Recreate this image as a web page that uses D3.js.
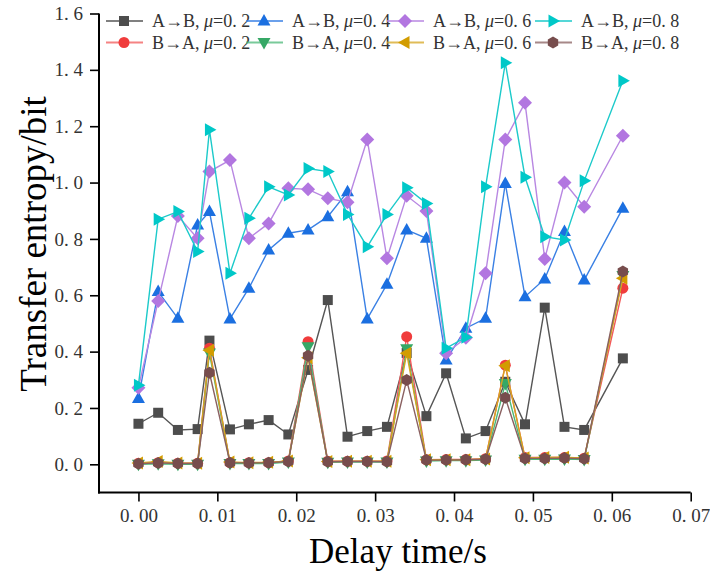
<!DOCTYPE html>
<html>
<head>
<meta charset="utf-8">
<script src="https://cdn.jsdelivr.net/npm/d3@7"></script>
<style>
  body { margin: 0; background: #fff; }
  svg { display: block; }
</style>
</head>
<body>
<div id="chart"></div>
<script>
// tempos de atraso (s)
const delays = [0, 0.0025, 0.005, 0.0075, 0.009, 0.0116, 0.014, 0.0165, 0.019, 0.0215,
  0.024, 0.0265, 0.029, 0.0315, 0.034, 0.0365, 0.039, 0.0415, 0.044, 0.0465,
  0.049, 0.0515, 0.054, 0.0565, 0.0614];

// A->B
const ab02 = [0.144, 0.183, 0.122, 0.125, 0.439, 0.124, 0.142, 0.157, 0.106, 0.335, 0.583, 0.098, 0.118, 0.133, 0.395, 0.171, 0.323, 0.092, 0.118, 0.293, 0.142, 0.556, 0.133, 0.122, 0.376];
const ab04 = [0.234, 0.613, 0.518, 0.849, 0.897, 0.516, 0.625, 0.761, 0.82, 0.832, 0.879, 0.967, 0.516, 0.639, 0.832, 0.802, 0.370, 0.483, 0.518, 0.997, 0.595, 0.658, 0.826, 0.654, 0.909];
const ab06 = [0.272, 0.58, 0.881, 0.802, 1.039, 1.08, 0.802, 0.855, 0.98, 0.976, 0.944, 0.93, 1.153, 0.731, 0.953, 0.899, 0.394, 0.449, 0.678, 1.153, 1.283, 0.729, 1.0, 0.914, 1.166];
const ab08 = [0.281, 0.87, 0.897, 0.755, 1.187, 0.678, 0.873, 0.985, 0.956, 1.05, 1.039, 0.887, 0.772, 0.887, 0.982, 0.926, 0.412, 0.451, 0.985, 1.425, 1.019, 0.808, 0.796, 1.006, 1.361];

// B->A
const ba02 = [0.004, 0.006, 0.004, 0.004, 0.412, 0.006, 0.006, 0.006, 0.012, 0.435, 0.011, 0.011, 0.011, 0.012, 0.453, 0.016, 0.017, 0.017, 0.02, 0.352, 0.024, 0.024, 0.024, 0.022, 0.625];
const ba04 = [0.0, 0.002, 0.0, 0.0, 0.395, 0.003, 0.003, 0.003, 0.008, 0.417, 0.007, 0.008, 0.008, 0.008, 0.41, 0.012, 0.013, 0.013, 0.015, 0.287, 0.018, 0.018, 0.019, 0.017, 0.67];
const ba06 = [0.005, 0.01, 0.005, 0.004, 0.405, 0.008, 0.006, 0.007, 0.012, 0.378, 0.01, 0.011, 0.011, 0.011, 0.394, 0.016, 0.016, 0.016, 0.019, 0.35, 0.023, 0.024, 0.025, 0.022, 0.66];
const ba08 = [0.002, 0.005, 0.003, 0.003, 0.325, 0.006, 0.005, 0.006, 0.01, 0.385, 0.009, 0.01, 0.01, 0.009, 0.299, 0.015, 0.015, 0.016, 0.018, 0.236, 0.021, 0.021, 0.022, 0.02, 0.684];

const xTicks = [0, 0.01, 0.02, 0.03, 0.04, 0.05, 0.06, 0.07];
const yTicks = [0, 0.2, 0.4, 0.6, 0.8, 1.0, 1.2, 1.4, 1.6];

// ordem de desenho = ordem da legenda por coluna
const series = [
  { dir: "A", mu: "0. 2", values: ab02, color: "#4d4d4d", line: "#555", shape: "square" },
  { dir: "B", mu: "0. 2", values: ba02, color: "#f03c3c", line: "#f25a5a", shape: "circle" },
  { dir: "A", mu: "0. 4", values: ab04, color: "#1b6fe0", line: "#3a80e4", shape: "up" },
  { dir: "B", mu: "0. 4", values: ba04, color: "#36a866", line: "#4cb878", shape: "down" },
  { dir: "A", mu: "0. 6", values: ab06, color: "#b276e0", line: "#b887e2", shape: "diamond" },
  { dir: "B", mu: "0. 6", values: ba06, color: "#d29c00", line: "#d6a520", shape: "left" },
  { dir: "A", mu: "0. 8", values: ab08, color: "#00c8c8", line: "#1ccaca", shape: "right" },
  { dir: "B", mu: "0. 8", values: ba08, color: "#774d4d", line: "#8a6060", shape: "hex" },
];

const W = 710, H = 574;
const svg = d3.select("#chart").append("svg").attr("width", W).attr("height", H);

const x = d3.scaleLinear().domain([-0.005, 0.07]).range([99, 690.7]);
const y = d3.scaleLinear().domain([-0.1, 1.6]).range([492.5, 13.5]);

// formas dos marcadores
function markerPath(shape) {
  switch (shape) {
    case "square": return "M-5,-5h10v10h-10Z";
    case "circle": return d3.symbol(d3.symbolCircle, 95)();
    case "up": return "M0,-7L6.5,4.5L-6.5,4.5Z";
    case "down": return "M0,7L6.5,-4.5L-6.5,-4.5Z";
    case "left": return "M-7,0L4.5,-6.5L4.5,6.5Z";
    case "right": return "M7,0L-4.5,-6.5L-4.5,6.5Z";
    case "diamond": return "M0,-7L7,0L0,7L-7,0Z";
    case "hex": {
      const r = 6;
      const pts = d3.range(6).map(i => {
        const a = Math.PI / 3 * i - Math.PI / 2;
        return [r * Math.cos(a), r * Math.sin(a)];
      });
      return "M" + pts.map(p => p.join(",")).join("L") + "Z";
    }
  }
}

const lineGen = d3.line().x(d => x(d[0])).y(d => y(d[1]));

series.forEach(s => {
  const pts = delays.map((d, i) => [d, s.values[i]]);
  const g = svg.append("g");
  g.append("path")
    .attr("d", lineGen(pts))
    .attr("fill", "none")
    .attr("stroke", s.line)
    .attr("stroke-width", 1.4);
  g.selectAll("path.m")
    .data(pts)
    .enter()
    .append("path")
    .attr("class", "m")
    .attr("d", markerPath(s.shape))
    .attr("transform", d => `translate(${x(d[0])},${y(d[1])})`)
    .attr("fill", s.color);
});

// eixos
const axisFont = "'Liberation Serif', 'DejaVu Serif', serif";

const xAxis = svg.append("g").attr("transform", `translate(0,${y(-0.1)})`);
xAxis.call(d3.axisBottom(x).tickValues(d3.range(-0.005, 0.0701, 0.01)).tickSize(5).tickFormat(""))
  .call(g => g.select(".domain").remove());
xAxis.call(d3.axisBottom(x).tickValues(xTicks).tickSize(9).tickPadding(7)
    .tickFormat(d => d.toFixed(2).replace(".", ". ")))
  .call(g => g.selectAll(".domain").attr("stroke-width", 2).attr("d", `M${x(-0.005) - 1},0H${x(0.07)}`))
  .call(g => g.selectAll(".tick line").attr("stroke-width", 1.6))
  .call(g => g.selectAll("text").attr("font-family", axisFont).attr("font-size", 19).attr("fill", "#333"));

const yAxis = svg.append("g").attr("transform", `translate(${x(-0.005)},0)`);
yAxis.call(d3.axisLeft(y).tickValues(d3.range(-0.1, 1.6, 0.2)).tickSize(5).tickFormat(""))
  .call(g => g.select(".domain").remove());
yAxis.call(d3.axisLeft(y).tickValues(yTicks).tickSize(9).tickPadding(7)
    .tickFormat(d => d.toFixed(1).replace(".", ". ")))
  .call(g => g.selectAll(".domain").attr("stroke-width", 2).attr("d", `M0,${y(1.6)}V${y(-0.1) + 1}`))
  .call(g => g.selectAll(".tick line").attr("stroke-width", 1.6))
  .call(g => g.selectAll("text").attr("font-family", axisFont).attr("font-size", 19).attr("fill", "#333"));

// títulos
svg.append("text")
  .attr("x", 398).attr("y", 563)
  .attr("text-anchor", "middle")
  .attr("font-family", "'Liberation Serif', serif")
  .attr("font-size", 35)
  .text("Delay time/s");

svg.append("text")
  .attr("transform", "translate(46,244) rotate(-90)")
  .attr("text-anchor", "middle")
  .attr("font-family", "'Liberation Serif', serif")
  .attr("font-size", 37)
  .text("Transfer entropy/bit");

// legenda
const legCols = [124, 264, 405, 553];
const legRows = [21, 42.5];
series.forEach((s, i) => {
  const cx = legCols[Math.floor(i / 2)];
  const cy = legRows[i % 2];
  const g = svg.append("g").attr("transform", `translate(${cx},${cy})`);
  g.append("line").attr("x1", -18).attr("x2", 19).attr("y1", 0).attr("y2", 0)
    .attr("stroke", s.line).attr("stroke-opacity", 0.75).attr("stroke-width", 2);
  g.append("path").attr("d", markerPath(s.shape)).attr("fill", s.color);
  const t = g.append("text")
    .attr("x", 28).attr("y", 6)
    .attr("font-family", axisFont)
    .attr("font-size", 18)
    .attr("fill", "#333");
  t.append("tspan").text(s.dir === "A" ? "A→B, " : "B→A, ");
  t.append("tspan").attr("font-style", "italic").text("μ");
  t.append("tspan").text("=" + s.mu);
});
</script>
</body>
</html>
